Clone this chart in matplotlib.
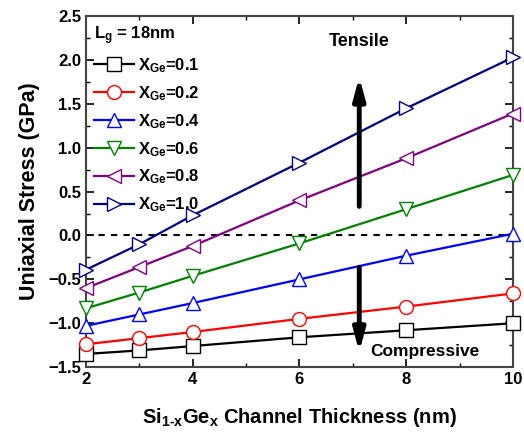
import matplotlib
matplotlib.use('Agg')
import matplotlib.pyplot as plt
from matplotlib.ticker import MultipleLocator

plt.rcParams['font.family'] = ['Liberation Sans', 'DejaVu Sans']
plt.rcParams['font.weight'] = 'bold'
plt.rcParams['mathtext.fontset'] = 'custom'
plt.rcParams['mathtext.rm'] = 'Liberation Sans:bold'
plt.rcParams['mathtext.bf'] = 'Liberation Sans:bold'
plt.rcParams['mathtext.it'] = 'Liberation Sans:bold'
plt.rcParams['mathtext.default'] = 'bf'

thickness = [2, 3, 4, 6, 8, 10]
x_ge = ['0.1', '0.2', '0.4', '0.6', '0.8', '1.0']
stress = [
    [-1.35, -1.31, -1.26, -1.16, -1.08, -1.00],
    [-1.24, -1.17, -1.10, -0.95, -0.81, -0.66],
    [-1.03, -0.90, -0.77, -0.50, -0.23, 0.02],
    [-0.83, -0.65, -0.46, -0.09, 0.30, 0.69],
    [-0.60, -0.36, -0.12, 0.40, 0.88, 1.39],
    [-0.39, -0.10, 0.23, 0.83, 1.45, 2.03],
]
colors = ['black', 'red', '#0000ff', '#008000', '#800080', '#000080']
markers = ['s', 'o', '^', 'v', '<', '>']

fig = plt.figure(figsize=(5.24, 4.36), dpi=100)
ax = fig.add_axes([0.164, 0.158, 0.815, 0.805])

for vals, lab, c, m in zip(stress, x_ge, colors, markers):
    ax.plot(thickness, vals, color=c, lw=1.6, marker=m, markersize=10,
            markerfacecolor='white', markeredgecolor=c, markeredgewidth=1.0,
            label='X$_{Ge}$=' + lab, clip_on=False, zorder=3)

ax.axhline(0, color='black', ls=(0, (3, 3)), lw=1.5, zorder=2)

ax.annotate('', xy=(7.12, 1.84), xytext=(7.12, 0.3),
            arrowprops=dict(arrowstyle='-|>,head_width=0.35,head_length=1.3',
                            color='black', lw=3.5))
ax.annotate('', xy=(7.12, -1.36), xytext=(7.12, -0.33),
            arrowprops=dict(arrowstyle='-|>,head_width=0.35,head_length=1.3',
                            color='black', lw=3.5))
ax.text(7.12, 2.21, 'Tensile', ha='center', va='center', fontsize=13, fontweight='bold')
ax.text(8.35, -1.32, 'Compressive', ha='center', va='center', fontsize=12.5, fontweight='bold')

leg = ax.legend(loc='upper left', frameon=False, title='L$_g$ = 18nm',
                prop={'size': 12, 'weight': 'bold'}, handlelength=2.4,
                handletextpad=0.2, labelspacing=0.55, borderaxespad=0.2,
                borderpad=0.3)
leg.get_title().set_fontsize(12)
leg.get_title().set_fontweight('bold')
leg._legend_box.align = 'left'

ax.set_xlim(2, 10)
ax.set_ylim(-1.5, 2.5)
ax.xaxis.set_major_locator(MultipleLocator(2))
ax.xaxis.set_minor_locator(MultipleLocator(1))
ax.yaxis.set_major_locator(MultipleLocator(0.5))
ax.yaxis.set_minor_locator(MultipleLocator(0.25))
ax.tick_params(which='both', direction='in', top=True, right=True, labelsize=12)
ax.tick_params(which='major', length=6, width=1.2)
ax.tick_params(which='minor', length=3, width=1.0)
for s in ax.spines.values():
    s.set_linewidth(1.5)
    s.set_color('#444444')

ax.set_xlabel(r'Si$_{1\text{-}x}$Ge$_x$ Channel Thickness (nm)', fontsize=14.5,
              fontweight='bold', labelpad=14)
ax.set_ylabel('Uniaxial Stress (GPa)', fontsize=15.5, fontweight='bold', labelpad=6)

fig.savefig('out.png', dpi=100)
